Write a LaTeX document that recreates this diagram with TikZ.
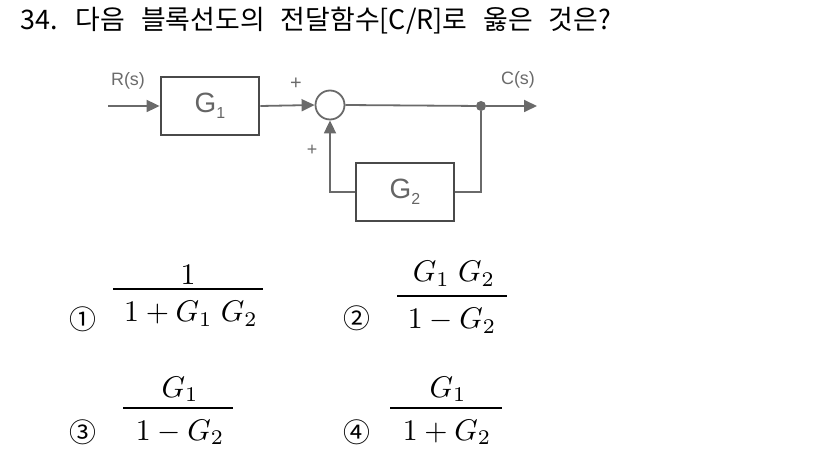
\documentclass[tikz,border=0pt]{standalone}
\usepackage{graphicx}
\usepackage{fontspec}
\setmainfont{Liberation Serif}
\newfontfamily\kr{Noto Sans CJK KR}
\newfontfamily\dg{Liberation Sans}
\usetikzlibrary{arrows.meta}
\definecolor{ln}{HTML}{6A6A6A}
\definecolor{bx}{HTML}{4A4A4A}
\newcommand{\lowsub}[1]{\raisebox{-6bp}{\fontsize{16}{16}\selectfont #1}}
\newcommand{\fracpart}[1]{\scalebox{3}{\fontsize{10}{12}\selectfont$#1$}}
\begin{document}
\begin{tikzpicture}[x=1bp,y=-1bp,
  blk/.style={draw=bx,line width=2.8bp,minimum width=98bp,minimum height=58bp,font=\dg\fontsize{28}{30}\selectfont,text=bx!85},
  wire/.style={draw=ln,line width=1.8bp},
  tip/.style={-{Triangle[length=13bp,width=12bp]}},
  lbl/.style={font=\dg\fontsize{18}{20}\selectfont,text=ln,inner sep=0pt},
  circ/.style={font=\kr\fontsize{27}{29}\selectfont,inner sep=0pt},
  fr/.style={inner sep=0pt,anchor=base},
  bar/.style={line width=1.6bp}]
\useasboundingbox (0,0) rectangle (826,449);
% title
\node[anchor=base west,font=\kr\fontsize{27}{29}\selectfont,inner sep=0pt] (title) at (20,30) {\spaceskip=16bp\relax 34. 다음 블록선도의 전달함수[C/R]로 옳은 것은?};
% diagram
\coordinate (in) at (108,106);
\node[blk] (g1) at (210,106) {\raisebox{-7bp}{G\lowsub{1}}};
\node[draw=ln,line width=1.8bp,circle,minimum size=29bp,inner sep=0pt] (sum) at (330,105) {};
\node[circle,fill=ln,minimum size=10bp,inner sep=0pt] (br) at (481,106) {};
\coordinate (out) at (537,106);
\node[blk] (g2) at (405,192) {\raisebox{-8bp}{G\lowsub{2}}};
\draw[wire,tip] (in) -- (g1.west);
\draw[wire,tip] (g1.east) -- (sum.west);
\draw[wire] (sum.east) -- (br);
\draw[wire,tip] (br) -- (out);
\draw[wire] (br) |- (g2.east);
\draw[wire,tip] (g2.west) -| (sum.south);
\node[lbl] (rs) at (128,81) {R(s)};
\node[lbl] (cs) at (518,80) {C(s)};
\node[lbl,font=\dg\fontsize{20}{20}\selectfont] (p1) at (296,84) {+};
\node[lbl] (p2) at (312,150) {+};
% answers
\node[circ] (c1) at (83,319) {①};
\node[circ] (c2) at (357,318) {②};
\node[circ] (c3) at (83,432) {③};
\node[circ] (c4) at (357,432) {④};
% 1
\node[fr] (n1) at (188,285) {\fracpart{1}};
\draw[bar] (113,289) -- (263,289);
\node[fr] (d1) at (191,322) {\fracpart{1 + G_1\;G_2}};
% 2
\node[fr] (n2) at (454,282) {\fracpart{G_1\;G_2}};
\draw[bar] (397,296) -- (507,296);
\node[fr] (d2) at (452,329) {\fracpart{1 - G_2}};
% 3
\node[fr] (n3) at (180,397) {\fracpart{G_1}};
\draw[bar] (123,408) -- (233,408);
\node[fr] (d3) at (180,440) {\fracpart{1 - G_2}};
% 4
\node[fr] (n4) at (448,397) {\fracpart{G_1}};
\draw[bar] (390,408) -- (502,408);
\node[fr] (d4) at (447,440) {\fracpart{1 + G_2}};
\end{tikzpicture}
\end{document}
